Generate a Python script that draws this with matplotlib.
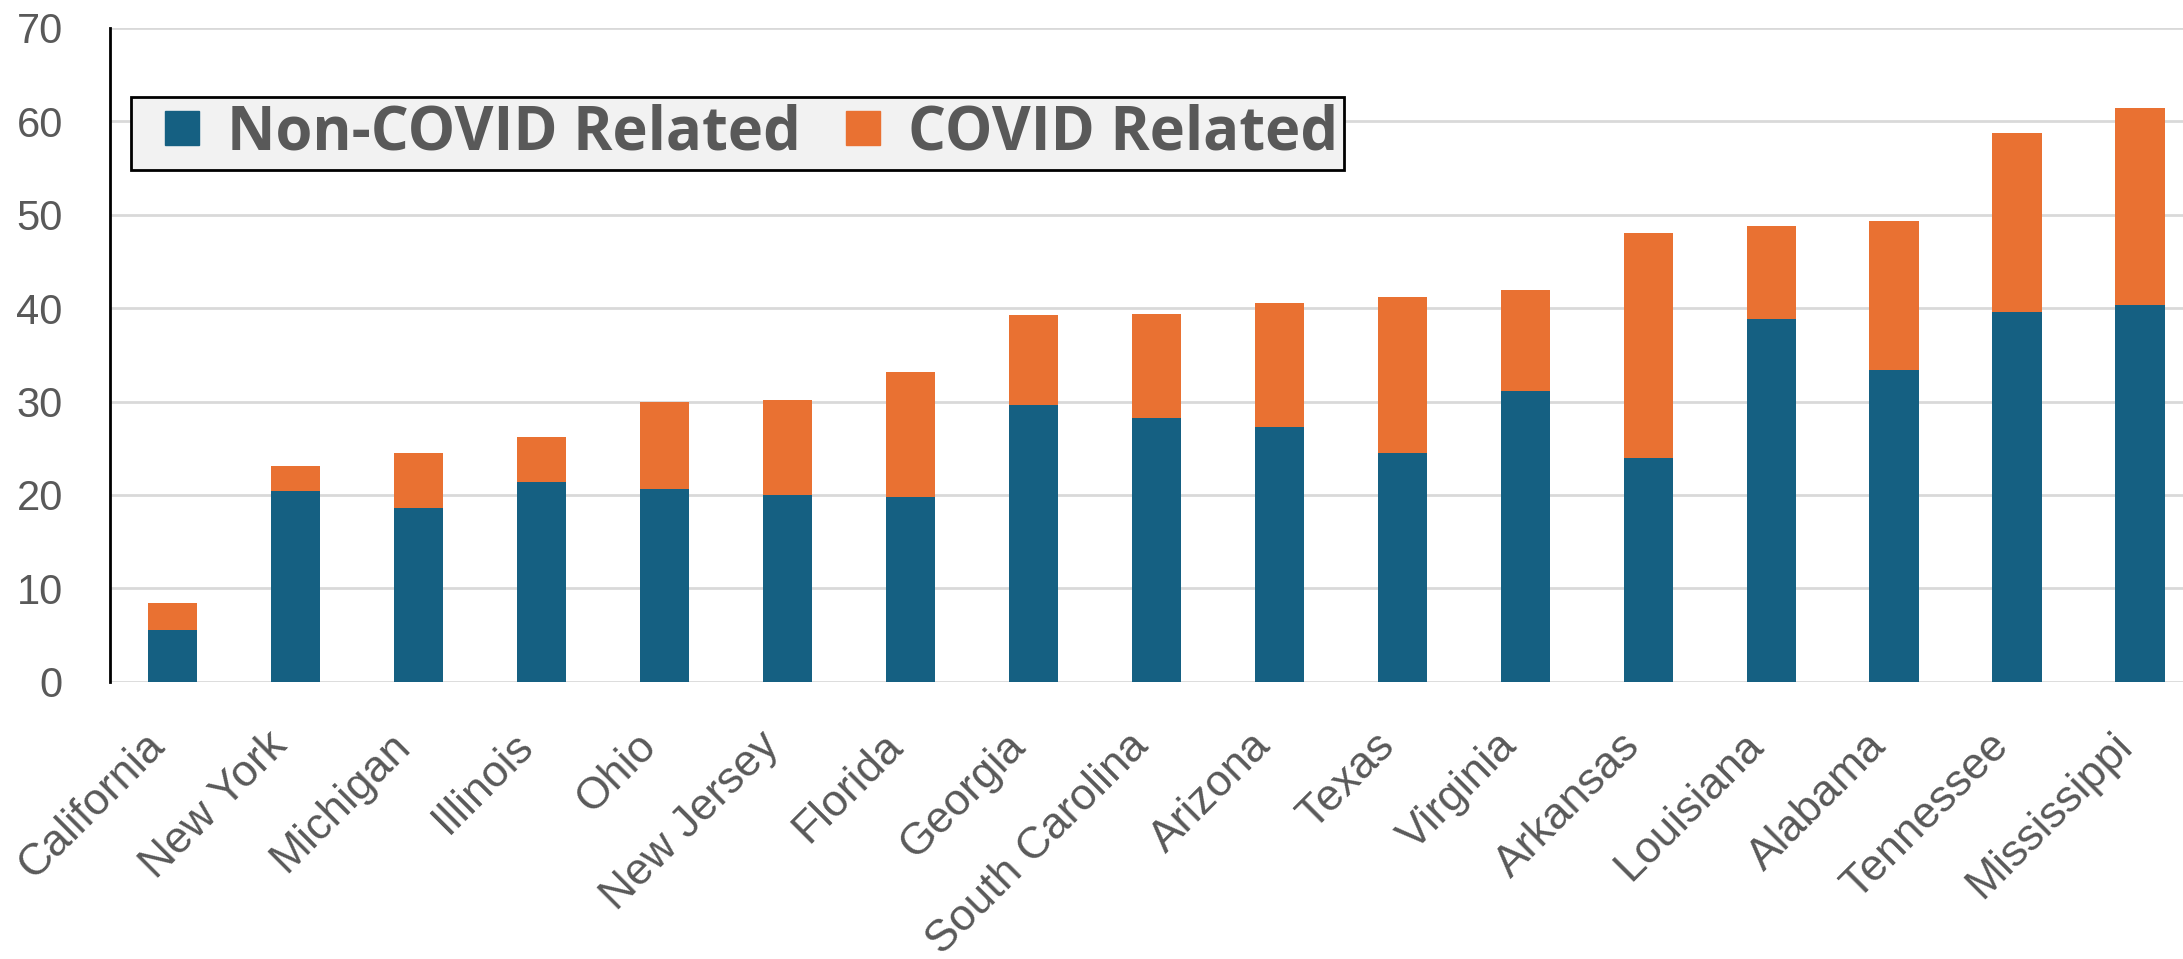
import matplotlib
matplotlib.use("Agg")
import matplotlib.pyplot as plt
from matplotlib.lines import Line2D
import numpy as np

states = ["California", "New York", "Michigan", "Illinois", "Ohio", "New Jersey",
          "Florida", "Georgia", "South Carolina", "Arizona", "Texas", "Virginia",
          "Arkansas", "Louisiana", "Alabama", "Tennessee", "Mississippi"]
non_covid = [5.5, 20.4, 18.6, 21.4, 20.6, 20.0, 19.8, 29.6, 28.2, 27.3, 24.5,
             31.1, 24.0, 38.8, 33.4, 39.6, 40.3]
total = [8.4, 23.1, 24.5, 26.2, 29.9, 30.2, 33.2, 39.3, 39.4, 40.6, 41.2,
         41.9, 48.0, 48.8, 49.3, 58.7, 61.4]
covid = [t - n for t, n in zip(total, non_covid)]

blue = "#156082"
orange = "#E97132"
grey_text = "#595959"

plt.rcParams['font.family'] = ['Liberation Sans', 'DejaVu Sans']

fig = plt.figure(figsize=(21.83, 9.59), dpi=100)
ax = fig.add_axes([0.0504, 0.289, 0.9496, 0.682])

x = np.arange(len(states))
ax.bar(x, non_covid, width=0.4, color=blue, zorder=3)
ax.bar(x, covid, width=0.4, bottom=non_covid, color=orange, zorder=3)

ax.set_ylim(0, 70)
ax.set_xlim(-0.51, 16.35)
ax.set_yticks(range(0, 71, 10))
ax.yaxis.grid(True, color="#d9d9d9", linewidth=2, zorder=0)
ax.set_axisbelow(True)

for s in ["top", "right", "bottom"]:
    ax.spines[s].set_visible(False)
ax.spines["left"].set_linewidth(2)
ax.spines["left"].set_color("black")

ax.set_xticks(x)
ax.set_xticklabels(states, rotation=45, ha="right")
ax.tick_params(axis="both", length=0, labelcolor=grey_text)
ax.tick_params(axis="x", pad=31, labelsize=32)
ax.tick_params(axis="y", pad=34, labelsize=30)

# square markers as legend keys
handles = [Line2D([], [], marker="s", markersize=25, color=blue, linestyle="none"),
           Line2D([], [], marker="s", markersize=25, color=orange, linestyle="none")]
leg = ax.legend(handles, ["Non-COVID Related", "COVID Related"],
                loc="upper left", bbox_to_anchor=(0.0101, 0.894), ncol=2,
                prop={"family": "Open Sans", "weight": "bold", "size": 43},
                frameon=True, fancybox=False, edgecolor="black", facecolor="#f2f2f2",
                handlelength=1.5, handletextpad=0.0, columnspacing=0.3,
                borderpad=0.1, borderaxespad=0)
leg.get_frame().set_linewidth(2)
leg.get_frame().set_alpha(1)
for t in leg.get_texts():
    t.set_color(grey_text)

fig.savefig("out.png", dpi=100)
